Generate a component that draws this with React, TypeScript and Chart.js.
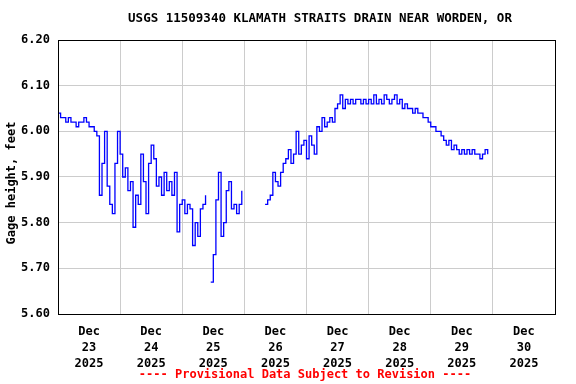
import React, { useEffect, useRef } from "react";
import { Chart, registerables } from "chart.js";

Chart.register(...registerables);

const titleText = "USGS 11509340 KLAMATH STRAITS DRAIN NEAR WORDEN, OR";
const yAxisTitle = "Gage height, feet";
const footerText = "---- Provisional Data Subject to Revision ----";
const dayLabels = ["23", "24", "25", "26", "27", "28", "29", "30"];
const monthLabel = "Dec";
const yearLabel = "2025";
const yTicks = [5.6, 5.7, 5.8, 5.9, 6.0, 6.1, 6.2];

// hourly gage height, hour 0 = Dec 23 00:00
const dec23 = [6.04, 6.03, 6.03, 6.02, 6.03, 6.02, 6.02, 6.01, 6.02, 6.02, 6.03, 6.02, 6.01, 6.01, 6.00, 5.99, 5.86, 5.93, 6.00, 5.88, 5.84, 5.82, 5.93, 6.00];
const dec24 = [5.95, 5.90, 5.92, 5.87, 5.89, 5.79, 5.86, 5.84, 5.95, 5.89, 5.82, 5.93, 5.97, 5.94, 5.88, 5.90, 5.86, 5.91, 5.87, 5.89, 5.86, 5.91, 5.78, 5.84];
const dec25 = [5.85, 5.82, 5.84, 5.83, 5.75, 5.80, 5.77, 5.83, 5.84, 5.86, null, 5.67, 5.73, 5.85, 5.91, 5.77, 5.80, 5.87, 5.89, 5.83, 5.84, 5.82, 5.84, 5.87];
const dec26 = [null, null, null, null, null, null, null, null, 5.84, 5.85, 5.86, 5.91, 5.89, 5.88, 5.91, 5.93, 5.94, 5.96, 5.93, 5.95, 6.00, 5.95, 5.97, 5.98];
const dec27 = [5.94, 5.99, 5.97, 5.95, 6.01, 6.00, 6.03, 6.01, 6.02, 6.03, 6.02, 6.05, 6.06, 6.08, 6.05, 6.07, 6.06, 6.07, 6.06, 6.07, 6.07, 6.06, 6.07, 6.06];
const dec28 = [6.07, 6.06, 6.08, 6.06, 6.07, 6.06, 6.08, 6.07, 6.06, 6.07, 6.08, 6.06, 6.07, 6.05, 6.06, 6.05, 6.05, 6.04, 6.05, 6.04, 6.04, 6.03, 6.03, 6.02];
const dec29 = [6.01, 6.01, 6.00, 6.00, 5.99, 5.98, 5.97, 5.98, 5.96, 5.97, 5.96, 5.95, 5.96, 5.95, 5.96, 5.95, 5.96, 5.95, 5.95, 5.94, 5.95, 5.96, 5.95];

const gageHeight: (number | null)[] = [...dec23, ...dec24, ...dec25, ...dec26, ...dec27, ...dec28, ...dec29];

const FONT = 'bold 12px "DejaVu Sans Mono", monospace';
const TITLE_FONT = 'bold 12.5px "DejaVu Sans Mono", monospace';

const framePlugin = {
  id: "usgsFrame",
  afterDraw(chart: any) {
    const { ctx, chartArea } = chart;
    ctx.save();
    ctx.strokeStyle = "#000";
    ctx.lineWidth = 1;
    ctx.strokeRect(
      Math.round(chartArea.left) + 0.5,
      Math.round(chartArea.top) + 0.5,
      Math.round(chartArea.right - chartArea.left),
      Math.round(chartArea.bottom - chartArea.top)
    );
    ctx.textAlign = "center";
    ctx.textBaseline = "middle";
    ctx.font = TITLE_FONT;
    ctx.fillStyle = "#000";
    ctx.fillText(titleText, 320, 19);
    ctx.font = FONT;
    ctx.fillStyle = "#ff0000";
    ctx.fillText(footerText, 305, 375);
    ctx.fillStyle = "#000";
    ctx.translate(12, 183);
    ctx.rotate(-Math.PI / 2);
    ctx.fillText(yAxisTitle, 0, 0);
    ctx.restore();
  },
};

export default function App() {
  const ref = useRef<HTMLCanvasElement>(null);
  useEffect(() => {
    if (!ref.current) return;
    const data = gageHeight.map((v, i) => ({ x: i, y: v }));
    const chart = new Chart(ref.current, {
      type: "line",
      data: {
        datasets: [
          {
            data: data as any,
            borderColor: "#0000ff",
            borderWidth: 1.3,
            pointRadius: 0,
            stepped: true,
            spanGaps: false,
          },
        ],
      },
      options: {
        animation: false,
        responsive: false,
        devicePixelRatio: 1,
        layout: { padding: { top: 40, right: 21, left: 0, bottom: 0 } },
        plugins: { legend: { display: false }, tooltip: { enabled: false } },
        scales: {
          x: {
            type: "linear",
            min: 0,
            max: 192,
            afterBuildTicks: (scale: any) => {
              const t = [];
              for (let v = 0; v <= 192; v += 12) t.push({ value: v });
              scale.ticks = t;
            },
            afterFit: (scale: any) => {
              scale.height = 70;
            },
            grid: {
              color: (c: any) => (c.tick && c.tick.value % 24 === 0 ? "#cccccc" : "rgba(0,0,0,0)"),
              drawTicks: false,
              lineWidth: 1,
            },
            border: { display: false },
            ticks: {
              autoSkip: false,
              maxRotation: 0,
              padding: 10,
              color: "#000",
              font: { family: '"DejaVu Sans Mono", monospace', size: 12, weight: "bold", lineHeight: 1.33 },
              callback: (value: any) => {
                const v = Number(value);
                if (v % 24 !== 12) return "";
                const idx = (v - 12) / 24;
                return [monthLabel, dayLabels[idx], yearLabel];
              },
            },
          },
          y: {
            min: 5.6,
            max: 6.2,
            afterBuildTicks: (scale: any) => {
              scale.ticks = yTicks.map((v) => ({ value: v }));
            },
            afterFit: (scale: any) => {
              scale.width = 58;
            },
            grid: { color: "#cccccc", drawTicks: false, lineWidth: 1 },
            border: { display: false },
            ticks: {
              padding: 8,
              color: "#000",
              font: { family: '"DejaVu Sans Mono", monospace', size: 12, weight: "bold" },
              callback: (value: any) => Number(value).toFixed(2),
            },
          },
        },
      },
      plugins: [framePlugin],
    });
    return () => chart.destroy();
  }, []);
  return (
    <div style={{ position: "absolute", left: 0, top: 0, width: 576, height: 384, background: "#fff" }}>
      <canvas ref={ref} width={576} height={384} />
    </div>
  );
}
